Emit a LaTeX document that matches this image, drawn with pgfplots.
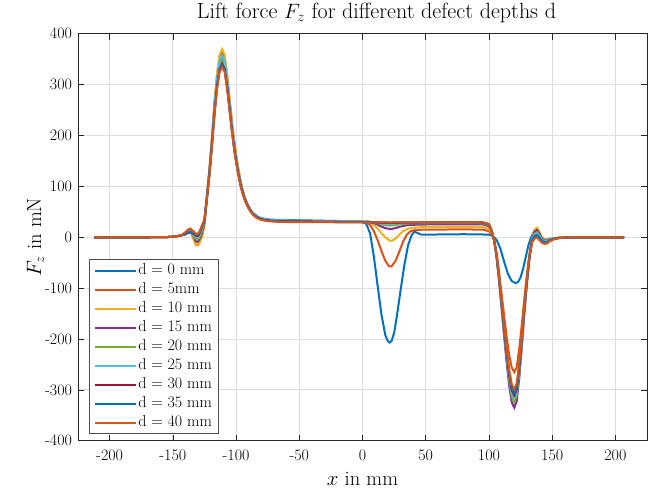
\documentclass[border=0pt]{standalone}
\usepackage{pgfplots}
\pgfplotsset{compat=1.18}

\definecolor{mlA}{rgb}{0,0.447,0.741}
\definecolor{mlB}{rgb}{0.85,0.325,0.098}
\definecolor{mlC}{rgb}{0.929,0.694,0.125}
\definecolor{mlD}{rgb}{0.494,0.184,0.556}
\definecolor{mlE}{rgb}{0.466,0.674,0.188}
\definecolor{mlF}{rgb}{0.301,0.745,0.933}
\definecolor{mlG}{rgb}{0.635,0.078,0.184}
\definecolor{gridgray}{rgb}{0.87,0.87,0.87}

\newcommand{\tickfont}{\fontsize{16}{18}\selectfont}

\begin{document}
\begin{tikzpicture}
\begin{axis}[
    scale only axis,
    width=569pt, height=407pt,
    xmin=-225, xmax=225,
    ymin=-400, ymax=400,
    xtick={-200,-150,...,200},
    ytick={-400,-300,...,400},
    tick align=inside,
    major tick length=6pt,
    tick style={black!85, line width=0.6pt},
    axis line style={black!85, line width=0.8pt},
    grid=major,
    major grid style={gridgray, line width=0.8pt},
    /pgf/number format/assume math mode=true,
    xticklabel={\tickfont\pgfmathprintnumber{\tick}},
    yticklabel={\tickfont\pgfmathprintnumber{\tick}},
    xticklabel style={yshift=-6pt},
    yticklabel style={xshift=-2.5pt},
    title={Lift force $F_z$ for different defect depths d},
    title style={font=\fontsize{22}{25}\selectfont, at={(axis description cs:0.5,1)}, anchor=base, yshift=9pt, xshift=14pt},
    xlabel={$x$ in mm},
    xlabel style={font=\fontsize{20.5}{23}\selectfont, at={(axis description cs:0.5,0)}, anchor=base, yshift=-45pt},
    ylabel={$F_z$ in mN},
    ylabel style={font=\fontsize{20.5}{23}\selectfont, at={(axis description cs:-0.065,0.5)}, anchor=base},
    every axis plot/.append style={line width=2pt},
    legend cell align=left,
    legend image code/.code={\draw[#1] (0pt,0pt) -- (41pt,0pt);},
    legend style={at={(axis description cs:0,0)}, anchor=south west,
        xshift=11pt, yshift=7pt, draw=black!70, line width=0.6pt,
        font=\fontsize{16}{18}\selectfont, row sep=3.2pt,
        inner xsep=5pt, inner ysep=3pt,
        nodes={inner sep=1pt, text height=10.5pt, text depth=3.3pt},
        every odd column/.style={},
        every even column/.style={inner xsep=1pt, text width=70pt}},
]

% d = 0 mm
\addplot[mlA] coordinates {
(-212,0) (-170,0) (-155,0.3) (-148,1.5) (-143,4) (-140,6) (-138,9) (-136,10) (-134,7.5) (-132,5) (-131,3) (-130,4) (-129,8) (-127,20) (-125,34)
(-123,81) (-121,131) (-119,192) (-117,258) (-115,311) (-113,346) (-111,356) (-109,346) (-107,308) (-105,261) (-103,214) (-101,174) (-99,141) (-97,114)
(-95,93) (-93,77) (-91,65) (-89,56) (-87,49) (-85,44.5) (-83,41) (-81,38.5) (-78,36.5) (-74,35) (-68,34.3) (-60,34) (-40,33) (-20,32) (-5,31.3) (0,30.5)
(3,26) (6,8) (9,-38) (12,-96) (15,-152) (18,-192) (20,-204) (21.5,-207) (23,-204) (25,-188) (27,-158) (30,-106) (33,-56) (36,-16) (39,5) (41,11) (43,9) (46,5.5)
(50,5) (60,5.5) (80,6) (95,5.5) (100,5) (103,3)
(106,-5) (109,-22) (112,-48) (115,-72) (118,-86) (121,-90) (123,-88) (125,-79) (127,-62) (129,-40) (131,-18) (133,-2) (135,8) (137,11) (139,8) (141,2)
(143,-3) (145,-5) (148,-3.5) (152,-1.5) (156,-0.8) (160,-0.4) (170,0) (207,0)
};
\addlegendentry{d = 0 mm}

% d = 5 mm
\addplot[mlB] coordinates {
(-212,0) (-170,0) (-155,0.3) (-148,1.5) (-143,4) (-140,7.2) (-138,10.8) (-136,12) (-134,-1) (-132,-14) (-131,-16) (-130,-15) (-129,-11) (-127,1) (-125,24.5)
(-123,83) (-121,134) (-119,196) (-117,264) (-115,318) (-113,354) (-111,364) (-109,354) (-107,315) (-105,267) (-103,219) (-101,178) (-99,145) (-97,117)
(-95,94) (-93,77) (-91,65) (-89,55.5) (-87,48) (-85,43) (-83,39.5) (-81,37) (-78,35) (-74,33.5) (-68,32.5) (-60,32) (-40,31.3) (-20,30.8) (-5,30.3) (0,30)
(3,29) (6,24) (9,12) (12,-6) (15,-27) (18,-46) (21,-57) (23,-57) (26,-47) (29,-29) (32,-9) (35,5) (38,12) (42,14.5) (50,15) (80,15.5) (95,15) (100,12)
(102,6) (104,-4) (106,-30) (108,-68) (110,-111) (112,-154) (114,-195) (116,-231) (118,-256) (120,-265) (122,-255) (124,-218) (126,-171) (128,-120) (130,-73) (132,-33)
(134,-4) (136,13) (138,17) (140,8) (142,-4) (144,-8) (146,-6.5) (148,-4) (152,-2) (156,-1) (160,-0.5) (170,0) (207,0)
};
\addlegendentry{d = 5mm}

% d = 10 mm
\addplot[mlC] coordinates {
(-212,0) (-170,0) (-155,0.3) (-148,1.5) (-143,4) (-140,9) (-138,13.5) (-136,15) (-134,1) (-132,-13) (-131,-15) (-130,-14) (-129,-10) (-127,2) (-125,25)
(-123,84) (-121,137) (-119,200) (-117,268) (-115,324) (-113,359) (-111,370) (-109,359) (-107,321) (-105,271) (-103,223) (-101,181) (-99,147) (-97,119)
(-95,95) (-93,78) (-91,65.5) (-89,56) (-87,48.5) (-85,43.5) (-83,40) (-81,37.5) (-78,35.5) (-74,34) (-68,33) (-60,32.5) (-40,31.8) (-20,31.2) (-5,30.8) (0,30.5)
(3,30) (6,28) (9,24) (12,17) (15,8) (18,0) (21,-6) (23,-7) (26,-3) (29,5) (32,12) (36,17) (42,19.5) (50,20) (80,20.3) (95,20) (100,17)
(102,9) (104,-5) (106,-34) (108,-77) (110,-126) (112,-174) (114,-221) (116,-261) (118,-290) (120,-300) (122,-288) (124,-247) (126,-194) (128,-136) (130,-82) (132,-37)
(134,-4) (136,15) (138,19) (140,11) (142,-1) (144,-5) (146,-4.5) (148,-3) (152,-1.5) (156,-0.8) (160,-0.4) (170,0) (207,0)
};
\addlegendentry{d = 10 mm}

% d = 15 mm
\addplot[mlD] coordinates {
(-212,0) (-170,0) (-155,0.3) (-148,1.5) (-143,4) (-140,7.8) (-138,11.7) (-136,13) (-134,5) (-132,-7) (-131,-9) (-130,-8) (-129,-4) (-127,8) (-125,28)
(-123,80) (-121,130) (-119,190) (-117,255) (-115,308) (-113,342) (-111,352) (-109,342) (-107,305) (-105,258) (-103,212) (-101,172) (-99,140) (-97,113)
(-95,92) (-93,76) (-91,64) (-89,55) (-87,48) (-85,43) (-83,39.5) (-81,37) (-78,35) (-74,33.5) (-68,32.5) (-60,32) (-40,31.7) (-20,31.4) (-5,31.2) (0,31)
(3,31) (6,30) (10,27) (14,22) (18,18) (22,16) (26,18) (30,21) (36,24) (45,25) (60,25.3) (80,25.5) (95,25.3) (100,22)
(102,12) (104,-5) (106,-38) (108,-86) (110,-140) (112,-195) (114,-246) (116,-292) (118,-324) (120,-335) (122,-322) (124,-276) (126,-216) (128,-151) (130,-92) (132,-41)
(134,-6) (136,11) (138,14) (140,7) (142,-3) (144,-7) (146,-6) (148,-4) (152,-2) (156,-1) (160,-0.5) (170,0) (207,0)
};
\addlegendentry{d = 15 mm}

% d = 20 mm
\addplot[mlE] coordinates {
(-212,0) (-170,0) (-155,0.3) (-148,1.5) (-143,4) (-140,7.2) (-138,10.8) (-136,12) (-134,4.5) (-132,-3) (-131,-5) (-130,-4) (-129,0) (-127,12) (-125,30)
(-123,79) (-121,129) (-119,188) (-117,252) (-115,305) (-113,338) (-111,348) (-109,338) (-107,302) (-105,255) (-103,210) (-101,170) (-99,138) (-97,112)
(-95,91) (-93,75.5) (-91,63.5) (-89,54.5) (-87,47.5) (-85,42.5) (-83,39) (-81,36.8) (-78,34.8) (-74,33.3) (-68,32.4) (-60,32) (-40,31.7) (-20,31.4) (-5,31.2) (0,31)
(3,31) (7,30) (11,28) (15,25.5) (19,23.5) (22,23) (26,24) (30,25.5) (36,27) (45,27.5) (80,27.8) (95,27.5) (100,24)
(102,13) (104,-5) (106,-37) (108,-84) (110,-136) (112,-188) (114,-238) (116,-282) (118,-314) (120,-324) (122,-311) (124,-267) (126,-209) (128,-146) (130,-89) (132,-40)
(134,-6) (136,7) (138,10) (140,4) (142,-5) (144,-8) (146,-7) (148,-4.5) (152,-2) (156,-1) (160,-0.5) (170,0) (207,0)
};
\addlegendentry{d = 20 mm}

% d = 25 mm
\addplot[mlF] coordinates {
(-212,0) (-170,0) (-155,0.3) (-148,1.5) (-143,4) (-140,6.6) (-138,9.9) (-136,11) (-134,6) (-132,1) (-131,-1) (-130,0) (-129,4) (-127,16) (-125,32)
(-123,81) (-121,132) (-119,193) (-117,259) (-115,312) (-113,347) (-111,357) (-109,347) (-107,309) (-105,262) (-103,215) (-101,174) (-99,142) (-97,115)
(-95,93) (-93,77) (-91,64.5) (-89,55.5) (-87,48.5) (-85,43.5) (-83,40) (-81,37.7) (-78,35.7) (-74,34.2) (-68,33.4) (-60,33) (-40,32.3) (-20,31.7) (-5,31.3) (0,31)
(3,31) (8,30) (13,28) (18,26.5) (22,26) (27,26.8) (33,28) (45,28.5) (80,28.8) (95,28.5) (100,25)
(102,14) (104,-5) (106,-36) (108,-82) (110,-132) (112,-184) (114,-232) (116,-275) (118,-306) (120,-316) (122,-304) (124,-260) (126,-204) (128,-143) (130,-87) (132,-39)
(134,-7) (136,5) (138,8) (140,2) (142,-6) (144,-9) (146,-8) (148,-5) (152,-2.2) (156,-1) (160,-0.5) (170,0) (207,0)
};
\addlegendentry{d = 25 mm}

% d = 30 mm
\addplot[mlG] coordinates {
(-212,0) (-170,0) (-155,0.3) (-148,1.5) (-143,4) (-140,6) (-138,9) (-136,10) (-134,7) (-132,4) (-131,2) (-130,3) (-129,7) (-127,19) (-125,33.5)
(-123,78) (-121,126) (-119,184) (-117,247) (-115,298) (-113,331) (-111,341) (-109,331) (-107,296) (-105,250) (-103,205) (-101,167) (-99,136) (-97,110)
(-95,89.5) (-93,74) (-91,62.5) (-89,53.5) (-87,46.7) (-85,42) (-83,38.6) (-81,36.3) (-78,34.4) (-74,32.9) (-68,32) (-60,31.5) (-40,31) (-20,30.6) (-5,30.2) (0,30)
(4,30) (10,29.2) (16,28.3) (22,28) (28,28.4) (36,29) (80,29.2) (95,29) (100,25.5)
(102,14) (104,-5) (106,-35) (108,-80) (110,-130) (112,-181) (114,-229) (116,-271) (118,-301) (120,-311) (122,-299) (124,-256) (126,-201) (128,-141) (130,-86) (132,-40)
(134,-10) (136,0) (138,3) (140,-3) (142,-9) (144,-12) (146,-10.5) (148,-7) (152,-3) (156,-1.3) (160,-0.6) (170,0) (207,0)
};
\addlegendentry{d = 30 mm}

% d = 35 mm
\addplot[mlA] coordinates {
(-212,0) (-170,0) (-155,0.3) (-148,1.5) (-143,4) (-140,6) (-138,9) (-136,10) (-134,8) (-132,6) (-131,4) (-130,5) (-129,9) (-127,21) (-125,34.5)
(-123,77) (-121,125) (-119,182) (-117,245) (-115,296) (-113,328) (-111,338) (-109,328) (-107,293) (-105,248) (-103,204) (-101,165) (-99,134) (-97,108)
(-95,88) (-93,73) (-91,61.5) (-89,53) (-87,46.3) (-85,41.5) (-83,38.2) (-81,35.9) (-78,34) (-74,32.5) (-68,31.5) (-60,31) (-40,30.5) (-20,30) (-5,29.7) (0,29.5)
(10,29.3) (22,29) (35,29.4) (80,29.6) (95,29.4) (100,26)
(102,14) (104,-5) (106,-35) (108,-79) (110,-129) (112,-178) (114,-226) (116,-267) (118,-297) (120,-307) (122,-295) (124,-253) (126,-198) (128,-139) (130,-84) (132,-38)
(134,-8) (136,2) (138,5) (140,-1) (142,-7) (144,-10) (146,-9) (148,-6) (152,-2.6) (156,-1.2) (160,-0.5) (170,0) (207,0)
};
\addlegendentry{d = 35 mm}

% d = 40 mm
\addplot[mlB] coordinates {
(-212,0) (-170,0) (-155,0.3) (-148,1.5) (-143,4.5) (-140,10) (-138,15.3) (-136,17) (-134,12.5) (-132,8) (-131,6) (-130,7) (-129,11) (-127,23) (-125,35.5)
(-123,76) (-121,123) (-119,180) (-117,242) (-115,292) (-113,325) (-111,334) (-109,325) (-107,289) (-105,245) (-103,201) (-101,163) (-99,133) (-97,107)
(-95,87) (-93,72) (-91,60.5) (-89,52) (-87,45.3) (-85,40.5) (-83,37.2) (-81,34.9) (-78,33) (-74,31.5) (-68,30.5) (-60,30) (-40,29.7) (-20,29.5) (-5,29.3) (0,29.2)
(20,29.2) (80,29.4) (95,29.2) (100,26)
(102,14) (104,-5) (106,-34) (108,-77) (110,-125) (112,-174) (114,-220) (116,-260) (118,-289) (120,-299) (122,-287) (124,-246) (126,-193) (128,-135) (130,-82) (132,-38)
(134,-11) (136,-3) (138,0) (140,-6) (142,-11) (144,-13) (146,-12) (148,-8) (152,-3.5) (156,-1.5) (160,-0.6) (170,0) (207,0)
};
\addlegendentry{d = 40 mm}

\end{axis}
\path (current axis.south west) ++(-78pt,-49pt) (current axis.north east) ++(4pt,33pt);
\end{tikzpicture}
\end{document}
